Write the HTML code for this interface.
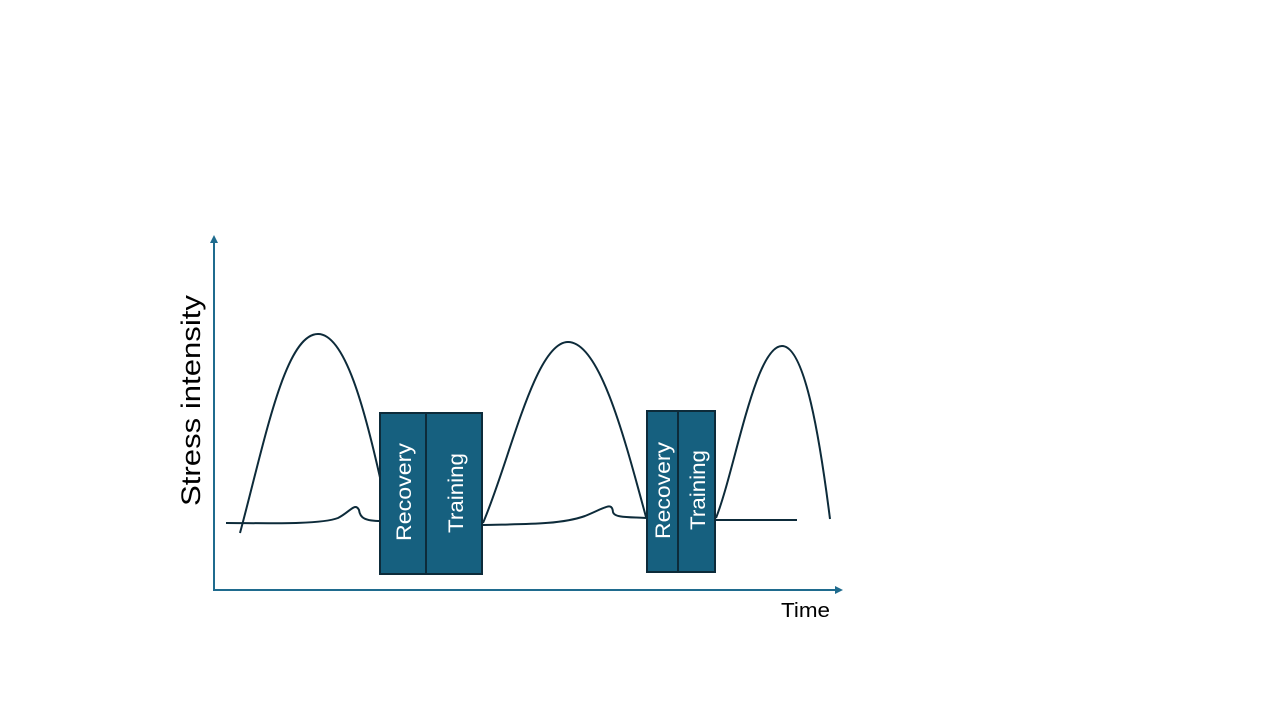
<!DOCTYPE html>
<html><head><meta charset="utf-8"><style>body{margin:0;background:#fff}svg{display:block}</style></head>
<body>
<svg width="1280" height="720" viewBox="0 0 1280 720" xmlns="http://www.w3.org/2000/svg" font-family="Liberation Sans, sans-serif">
<rect width="1280" height="720" fill="#fff"/>
<g stroke="#1f6b8e" stroke-width="2" fill="none">
<line x1="214" y1="591" x2="214" y2="242"/>
<line x1="213" y1="590" x2="836" y2="590"/>
</g>
<polygon points="214,235 210,243 218,243" fill="#1f6b8e"/>
<polygon points="843,590 835,586 835,594" fill="#1f6b8e"/>
<text x="781" y="617" font-size="20" fill="#000" textLength="49" lengthAdjust="spacingAndGlyphs">Time</text>
<text transform="translate(200,506) rotate(-90)" font-size="27" fill="#000" textLength="211" lengthAdjust="spacingAndGlyphs">Stress intensity</text>
<g stroke="#0d2b3a" stroke-width="2" fill="none">
<path d="M240,533 C265,440 285,334 318,334 C345,334 365,410 381,482"/>
<path d="M226,523 C260,523 320,525 338,518 C350,512 355,502 359,510 C360,518 365,521 381,521"/>
<path d="M483,523 C510,460 535,342 568,342 C600,342 625,440 646,517"/>
<path d="M483,525 C520,524 560,525 585,516 C605,508 612,501 613,512 C614,518 630,517 646,518"/>
<path d="M716,518 C735,470 755,346 782,346 C805,346 820,440 830,519"/>
<path d="M716,520 L797,520"/>
</g>
<g fill="#16607f" stroke="#0d2b3a" stroke-width="2">
<rect x="380" y="413" width="46" height="161"/>
<rect x="426" y="413" width="56" height="161"/>
<rect x="647" y="411" width="31" height="161"/>
<rect x="678" y="411" width="37" height="161"/>
</g>
<g fill="#fff" font-size="21" lengthAdjust="spacingAndGlyphs">
<text transform="translate(411,541) rotate(-90)" textLength="98" lengthAdjust="spacingAndGlyphs">Recovery</text>
<text transform="translate(463,533) rotate(-90)" textLength="80" lengthAdjust="spacingAndGlyphs">Training</text>
<text transform="translate(670,539) rotate(-90)" textLength="97" lengthAdjust="spacingAndGlyphs">Recovery</text>
<text transform="translate(705,530) rotate(-90)" textLength="80" lengthAdjust="spacingAndGlyphs">Training</text>
</g>
</svg>
</body></html>
